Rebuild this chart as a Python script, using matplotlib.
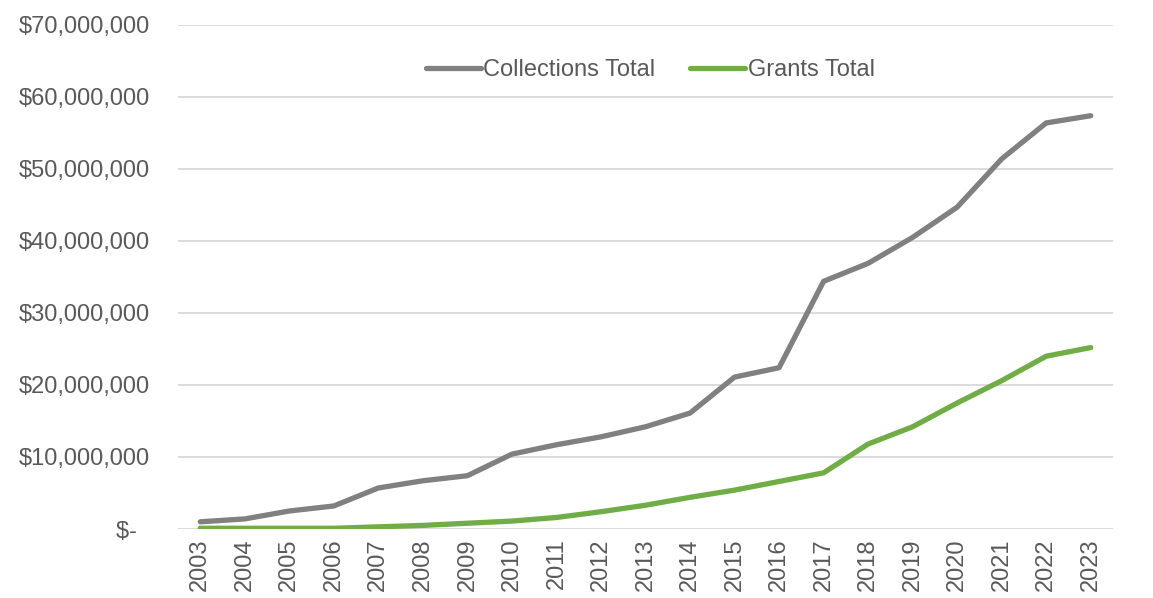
import numpy as np
from matplotlib import pyplot as plt
from matplotlib.ticker import FuncFormatter

plt.rcParams['font.family'] = ['Liberation Sans', 'DejaVu Sans']

# Data
years = [str(y) for y in range(2003, 2024)]
collections = [1.0, 1.4, 2.5, 3.2, 5.7, 6.7, 7.4, 10.4, 11.7, 12.8, 14.2,
               16.1, 21.1, 22.4, 34.4, 36.9, 40.5, 44.7, 51.4, 56.4, 57.4]
grants = [0.1, 0.1, 0.1, 0.1, 0.3, 0.5, 0.8, 1.1, 1.6, 2.4, 3.3,
          4.4, 5.4, 6.6, 7.8, 11.8, 14.2, 17.5, 20.6, 24.0, 25.2]

collections = np.array(collections) * 1e6
grants = np.array(grants) * 1e6

txt = '#595959'

fig = plt.figure(figsize=(11.53, 5.98), dpi=100)
ax = fig.add_axes([178 / 1153, 1 - 529 / 598, (1113 - 178) / 1153, (529 - 25) / 598])

x = np.arange(len(years))
ax.plot(x, collections, color='#808080', lw=3.8, solid_capstyle='round',
        label='Collections Total')
ax.plot(x, grants, color='#70AD47', lw=3.8, solid_capstyle='round',
        label='Grants Total')

ax.set_xlim(-0.5, len(years) - 0.5)
ax.set_ylim(0, 70e6)
ax.set_yticks(np.arange(0, 70e6 + 1, 10e6))


def money(v, pos):
    # accounting style: zero shown as a dash, padded on the right
    if v == 0:
        return '$-  '
    return '${:,.0f}'.format(v)


ax.yaxis.set_major_formatter(FuncFormatter(money))
ax.set_xticks(x)
ax.set_xticklabels(years, rotation=90)

ax.grid(axis='y', color='#d9d9d9', lw=1.3)
ax.set_axisbelow(True)
for s in ax.spines.values():
    s.set_visible(False)
ax.tick_params(axis='both', length=0, labelsize=17, colors=txt)
ax.tick_params(axis='y', pad=20)
ax.tick_params(axis='x', pad=7)

leg = ax.legend(loc='center', bbox_to_anchor=(0.505, 0.91), ncol=2,
                frameon=False, fontsize=17, handlelength=2.35, handletextpad=0.1,
                columnspacing=1.45)
for t in leg.get_texts():
    t.set_color(txt)

fig.savefig('out.png', dpi=100)
